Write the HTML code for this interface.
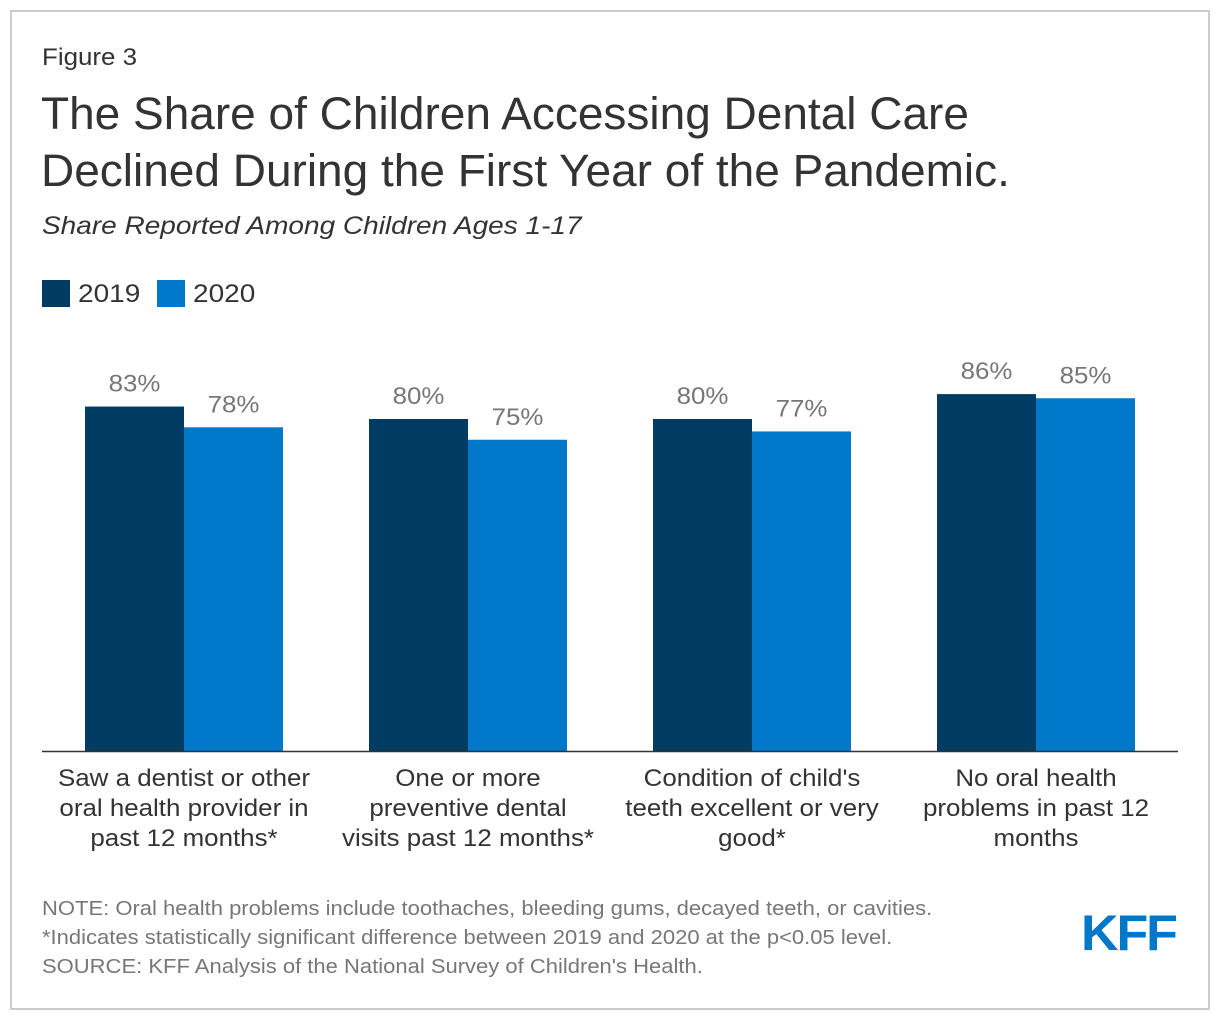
<!DOCTYPE html>
<html><head><meta charset="utf-8"><style>
body{margin:0;background:#fff;font-family:"Liberation Sans",Arial,sans-serif;}
#wrap{position:relative;width:1220px;height:1020px;overflow:hidden;}
#frame{position:absolute;left:10px;top:10px;width:1196px;height:996px;border:2px solid #cccccc;}
.t{position:absolute;white-space:nowrap;color:#333;transform-origin:left top;}
</style></head><body>
<div id="wrap">
<div id="frame"></div>
<div class="t" style="left:42px;top:44px;font-size:24px;transform:scaleX(1.08);">Figure 3</div>
<div class="t" style="left:41px;top:85px;font-size:45px;line-height:57px;color:#333;transform:scaleX(1.022);">The Share of Children Accessing Dental Care<br>Declined During the First Year of the Pandemic.</div>
<div class="t" style="left:42px;top:212px;font-size:25px;font-style:italic;transform:scaleX(1.12);">Share Reported Among Children Ages 1-17</div>
<svg id="chart" width="1220" height="1020" style="position:absolute;left:0;top:0"></svg>
<div class="t" style="left:42px;top:895px;font-size:20px;line-height:29px;color:#777;transform:scaleX(1.1);">NOTE: Oral health problems include toothaches, bleeding gums, decayed teeth, or cavities.<br>*Indicates statistically significant difference between 2019 and 2020 at the p&lt;0.05 level.<br>SOURCE: KFF Analysis of the National Survey of Children's Health.</div>
<div class="t" style="left:1081px;top:904px;font-size:50px;font-weight:bold;color:#0077c8;letter-spacing:-2px;transform:scaleX(1.04);">KFF</div>
</div>
<script>
const categories=[["Saw a dentist or other","oral health provider in","past 12 months*"],["One or more","preventive dental","visits past 12 months*"],["Condition of child's","teeth excellent or very","good*"],["No oral health","problems in past 12","months"]];
const series2019=[83,80,80,86];
const series2020=[78,75,77,85];
const seriesNames=["2019","2020"];
const NS="http://www.w3.org/2000/svg";
const svg=document.getElementById('chart');
const colors=["#003b63","#0077c8"];
const baseY=751,pxPer=4.15,groupX0=85,groupStep=284,barW=99;
function y(v){return baseY-v*pxPer;}
function x(g,s){return groupX0+g*groupStep+s*barW;}
function mk(tag,attrs,parent){const e=document.createElementNS(NS,tag);for(const k in attrs)e.setAttribute(k,attrs[k]);(parent||svg).appendChild(e);return e;}
seriesNames.forEach((n,i)=>{
  const lx=i===0?42:157;
  const r=mk('rect',{x:lx,y:280,width:28,height:27,fill:colors[i]});
  
  
  const t=mk('text',{x:0,y:0,transform:'translate('+(lx+36)+',302) scale(1.12,1)','font-size':25,fill:'#333','font-family':'Liberation Sans, sans-serif'});
  t.textContent=n;
  
  
});
[series2019,series2020].forEach((vals,s)=>{
  vals.forEach((v,g)=>{
    const r=mk('rect',{x:x(g,s),y:y(v),width:barW,height:baseY-y(v),fill:colors[s]});
    
    
    const t=mk('text',{x:0,y:0,transform:'translate('+(x(g,s)+barW/2)+','+(y(v)-15)+') scale(1.08,1)','text-anchor':'middle','font-size':24,fill:'#777','font-family':'Liberation Sans, sans-serif'});
    t.textContent=v+'%';
    
    
  });
});
const ax=mk('line',{x1:42,x2:1178,y1:baseY+0.5,y2:baseY+0.5,stroke:'#333','stroke-width':1.5});


categories.forEach((lines,g)=>{
  const t=mk('text',{transform:'translate('+x(g,1)+',0) scale(1.08,1)','text-anchor':'middle','font-size':24,fill:'#333','font-family':'Liberation Sans, sans-serif'});
  
  
  lines.forEach((l,i)=>{
    const ts=document.createElementNS(NS,'tspan');
    ts.setAttribute('x',0);ts.setAttribute('y',786+i*30);
    ts.textContent=l;t.appendChild(ts);
  });
});
</script>
</body></html>
